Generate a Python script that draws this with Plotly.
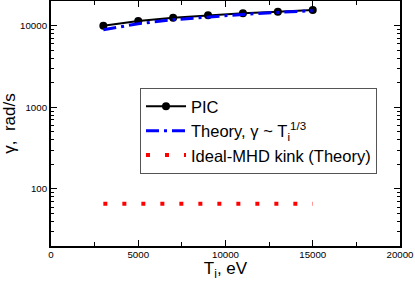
import plotly.graph_objects as go

# Data
ti_pic = [3000, 5000, 7000, 9000, 11000, 13000, 15000]
gamma_pic = [10000, 11420, 12530, 13400, 14190, 14850, 15580]

ti_theory = [3000, 5000, 7000, 9000, 11000, 13000, 15000]
gamma_theory = [8930, 10590, 11840, 12880, 13770, 14560, 15270]

ti_kink = [3000, 15000]
gamma_kink = [66, 66]

y_major = [100, 1000, 10000]
y_major_text = ["100", "1000", "10000"]
y_minor = [20, 30, 40, 50, 60, 70, 80, 90,
           200, 300, 400, 500, 600, 700, 800, 900,
           2000, 3000, 4000, 5000, 6000, 7000, 8000, 9000, 20000]
x_major = [0, 5000, 10000, 15000, 20000]
x_minor = [2500, 7500, 12500, 17500]

FONT = "Liberation Sans, Arial, Helvetica, sans-serif"

fig = go.Figure()
fig.add_trace(go.Scatter(
    x=ti_pic, y=gamma_pic, mode="lines+markers", name="PIC",
    line=dict(color="black", width=2),
    marker=dict(color="black", size=8, symbol="circle"),
))
fig.add_trace(go.Scatter(
    x=ti_theory, y=gamma_theory, mode="lines",
    name="Theory, γ ~ T<sub>i</sub><sup>1/3</sup>",
    line=dict(color="#0000ff", width=3, dash="13px,5px,3px,5px"),
))
fig.add_trace(go.Scatter(
    x=ti_kink, y=gamma_kink, mode="lines",
    name="Ideal-MHD kink (Theory)",
    line=dict(color="#ff0000", width=4, dash="4px,15px"),
))

fig.update_layout(
    width=415, height=281,
    margin=dict(l=51, r=15, t=1, b=35, autoexpand=False),
    paper_bgcolor="white", plot_bgcolor="white",
    font=dict(family=FONT, color="black"),
    showlegend=True,
    legend=dict(
        x=0.255, y=0.645, xanchor="left", yanchor="top",
        bgcolor="white", bordercolor="#555555", borderwidth=1,
        font=dict(size=16.5, family=FONT),
        itemwidth=40, tracegroupgap=0,
    ),
    xaxis=dict(
        range=[0, 20000], tickvals=x_major,
        ticktext=[str(v) for v in x_major],
        ticks="inside", ticklen=6, tickwidth=1, tickcolor="black",
        showline=True, linecolor="black", linewidth=2, mirror="ticks",
        showgrid=False, zeroline=False,
        tickfont=dict(size=9.7, family=FONT),
        ticklabelstandoff=-2,
        minor=dict(tickvals=x_minor, ticks="inside", ticklen=4,
                   tickwidth=1, tickcolor="black", showgrid=False),
        title=dict(text="T<sub>i</sub>, eV", font=dict(size=17, family=FONT),
                   standoff=0),
    ),
    yaxis=dict(
        type="log", range=[1.301, 4.303],
        tickvals=y_major, ticktext=y_major_text,
        ticks="inside", ticklen=6, tickwidth=1, tickcolor="black",
        showline=True, linecolor="black", linewidth=2, mirror="ticks",
        showgrid=False, zeroline=False,
        tickfont=dict(size=9.7, family=FONT),
        minor=dict(tickvals=y_minor, ticks="inside", ticklen=3,
                   tickwidth=1, tickcolor="black", showgrid=False),
        title=dict(text="γ,  rad/s", font=dict(size=17, family=FONT),
                   standoff=6),
    ),
)

fig.write_html(
    "out.html",
    config={"displayModeBar": False},
    post_script="document.body.style.margin='0';document.body.style.padding='0';",
)
